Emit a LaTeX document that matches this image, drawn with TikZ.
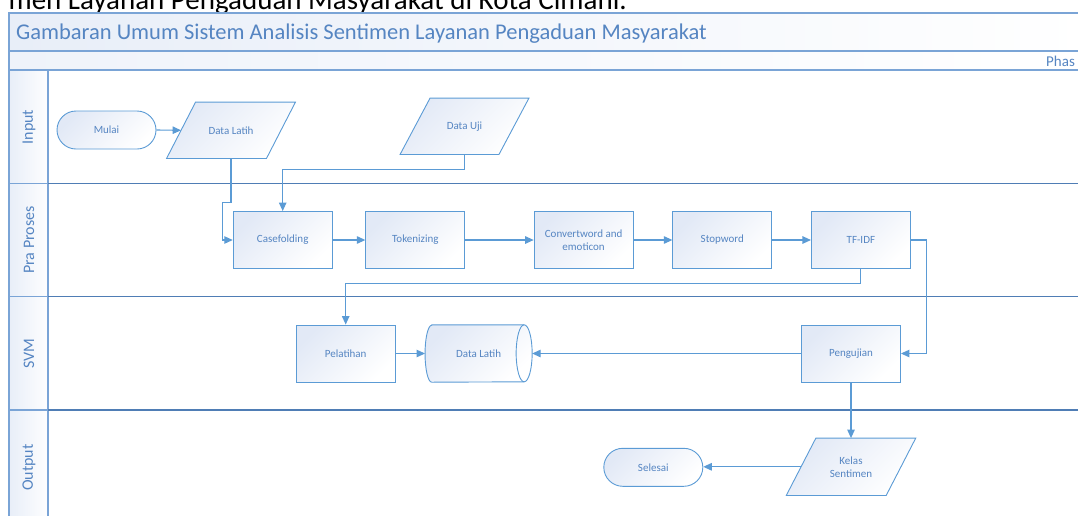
\documentclass[tikz,border=0pt]{standalone}
\usepackage{fontspec}
\setmainfont{Carlito}
\usetikzlibrary{arrows.meta,backgrounds,calc}

\definecolor{lineblue}{HTML}{5B9BD5}
\definecolor{frameblue}{HTML}{7AA4D6}
\definecolor{laneline}{HTML}{4F7DB5}
\definecolor{txtblue}{HTML}{5585C2}
\definecolor{boxtop}{HTML}{E2E9F6}
\definecolor{hdrfill}{HTML}{E8EEF8}

\tikzset{
  frameline/.style={draw=frameblue, line width=1.2pt},
  laneline/.style={draw=laneline, line width=1.1pt},
  lanelabel/.style={rotate=90, text=txtblue, font=\fontsize{16}{18}\selectfont},
  boxshade/.style={top color=boxtop, bottom color=white, shading angle=45},
  procbox/.style={draw=lineblue, line width=0.9pt, boxshade, minimum width=99pt,
    minimum height=57pt, inner sep=2pt, text=txtblue, align=center,
    font=\fontsize{11}{13}\selectfont},
  termbox/.style={procbox, minimum height=38pt, rounded corners=19pt},
  iocore/.style={minimum width=99.5pt, minimum height=56pt, inner sep=2pt, text=txtblue,
    align=center, font=\fontsize{11}{13}\selectfont},
  iodraw/.style={draw=lineblue, line width=0.9pt, boxshade},
  arr/.style={draw=lineblue, line width=1.1pt, -{Triangle[length=8.5pt,width=7.5pt]}},
}

\begin{document}
\begin{tikzpicture}[x=1pt,y=-1pt]
\useasboundingbox (0,0) rectangle (1078,515);
\clip (0,0) rectangle (1078,515);

% caption line above the chart
\node[anchor=base east, font=\fontsize{29}{30}\selectfont, inner sep=0pt] (caption)
  at (627,9.5) {men Layanan Pengaduan Masyarakat di Kota Cimahi.};

% swimlane frame
\shade[left color=hdrfill, right color=white] (9,13) rectangle (1090,51);
\shade[left color=hdrfill!70, right color=white] (9,51) rectangle (1090,70);
\shade[left color=hdrfill, right color=white!95!hdrfill] (9,70) rectangle (48,530);
\draw[frameline] (1090,13) -- (9,13) -- (9,530);
\draw[frameline] (9,51) -- (1090,51);
\draw[frameline] (9,70) -- (1090,70);
\draw[frameline] (48,70) -- (48,530);
\foreach \yy in {183.3,296.7,410} {
  \draw[frameline] (9,\yy) -- (48,\yy);
  \draw[laneline] (48,\yy) -- (1090,\yy);
}

\node[anchor=base west, text=txtblue, font=\fontsize{22.5}{24}\selectfont, inner sep=0pt]
  (title) at (16,39.7) {Gambaran Umum Sistem Analisis Sentimen Layanan Pengaduan Masyarakat};
\node[anchor=base west, text=txtblue, font=\fontsize{15}{17}\selectfont, inner sep=0pt]
  (phase) at (1046,66) {Phas};

\node[lanelabel] (lInput) at (29,127) {Input};
\node[lanelabel] (lPra) at (29,240) {Pra Proses};
\node[lanelabel] (lSvm) at (29,353.5) {SVM};
\node[lanelabel] (lOut) at (29,467.5) {Output};

% process nodes
\node[termbox] (mulai) at (106.5,130) {Mulai};
\node[iocore] (dl) at (231,130.3) {Data Latih};
\node[iocore, minimum width=98.5pt] (du) at (464.5,126.3) {Data Uji};
\node[procbox] (cf) at (282.7,240) {Casefolding};
\node[procbox] (tk) at (415.3,240) {Tokenizing};
\node[procbox] (cv) at (583.6,240) {Convertword and\\emoticon};
\node[procbox] (sw) at (722.3,240) {Stopword};
\node[procbox] (tf) at (860.9,240) {TF-IDF};
\node[procbox] (pl) at (345.7,353.5) {Pelatihan};
\node[iocore, minimum width=106.7pt, minimum height=57pt] (dlt) at (478.6,353.5) {Data Latih};
\node[procbox] (pg) at (851,353.5) {Pengujian};
\node[iocore, minimum height=57pt] (ks) at (851,466.8) {Kelas\\Sentimen};
\node[termbox] (sl) at (653.3,467.3) {Selesai};

% parallelograms and the stored-data cylinder, behind their labels
\begin{scope}[on background layer]
  \foreach \nd/\sl in {dl/14.5, du/15, ks/14.8} {
    \path[iodraw] ([xshift=\sl pt]\nd.north west) -- ([xshift=\sl pt]\nd.north east)
      -- ([xshift=-\sl pt]\nd.south east) -- ([xshift=-\sl pt]\nd.south west) -- cycle;
  }
  \path[iodraw] ([xshift=6.7pt]dlt.north west) -- ([xshift=-8pt]dlt.north east)
    arc[start angle=90, end angle=-90, x radius=8pt, y radius=28.5pt]
    -- ([xshift=6.7pt]dlt.south west)
    arc[start angle=270, end angle=90, x radius=6.7pt, y radius=28.5pt] -- cycle;
  \draw[draw=lineblue, line width=0.9pt] ([xshift=-8pt]dlt.north east)
    arc[start angle=90, end angle=270, x radius=8pt, y radius=28.5pt];
\end{scope}

% connectors
\draw[arr] (mulai.east) -- (dl.west);
\draw[arr] (dl.south) -- ++(0,43.7) -| ([xshift=-10pt]cf.west) -- (cf.west);
\draw[arr] (du.south) -- ++(0,14.7) -| (cf.north);
\draw[arr] (cf) -- (tk);
\draw[arr] (tk) -- (cv);
\draw[arr] (cv) -- (sw);
\draw[arr] (sw) -- (tf);
\draw[arr] (tf.south) -- ++(0,14.3) -| (pl.north);
\draw[arr] (tf.east) -- ++(15.3,0) |- (pg.east);
\draw[arr] (pl.east) -- (dlt.west);
\draw[arr] (pg.west) -- (dlt.east);
\draw[arr] (pg.south) -- (ks.north);
\draw[arr] (ks.west) -- (sl.east |- ks.west);

\end{tikzpicture}
\end{document}
